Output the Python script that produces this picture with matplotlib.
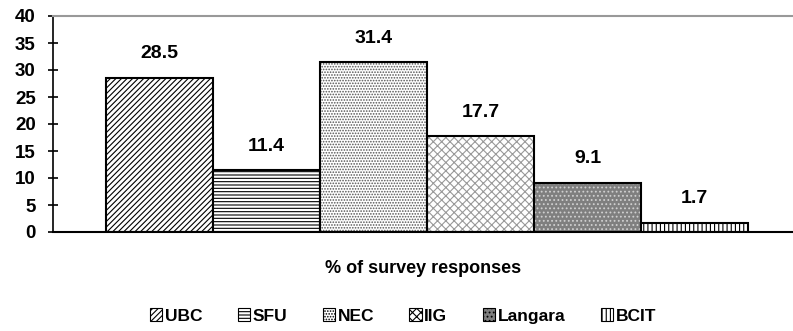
import matplotlib
matplotlib.use("Agg")
import matplotlib.pyplot as plt
import numpy as np

plt.rcParams['font.family'] = ['Liberation Sans', 'DejaVu Sans']
plt.rcParams['font.weight'] = 'bold'
plt.rcParams['hatch.linewidth'] = 0.8

schools = ["UBC", "SFU", "NEC", "IIG", "Langara", "BCIT"]
percent = [28.5, 11.4, 31.4, 17.7, 9.1, 1.7]
hatches = ["//////", "-----", "......", "xxxx", "....", "||||"]
fills = ["white", "white", "white", "white", "#7f7f7f", "white"]
hatch_colors = ["black", "black", "#555555", "#999999", "#d0d0d0", "black"]

fig = plt.figure(figsize=(7.93, 3.31), dpi=100)
ax = fig.add_axes([53 / 793, 1 - 232 / 331, 740 / 793, 216 / 331])

x = np.arange(len(schools))
bars = []
for i in range(len(schools)):
    b = ax.bar(x[i], percent[i], width=1.0, facecolor=fills[i], edgecolor=hatch_colors[i],
               hatch=hatches[i], linewidth=0, label=schools[i])
    # black outline drawn separately so hatch colour can differ
    ax.bar(x[i], percent[i], width=1.0, facecolor='none', edgecolor='black', linewidth=1.5)
    bars.append(b)
    ax.text(x[i], percent[i] + 2.9, f"{percent[i]}", ha='center', va='bottom',
            fontsize=14, fontweight='bold')

ax.set_xlim(-0.995, 5.92)
ax.set_ylim(0, 40)
ax.set_yticks(range(0, 41, 5))
ax.tick_params(axis='y', direction='inout', length=7, width=1.2, labelsize=13.5, pad=9)
ax.tick_params(axis='x', bottom=False, labelbottom=False)
for lab in ax.get_yticklabels():
    lab.set_fontweight('bold')

ax.spines['top'].set_color('#999999')
ax.spines['top'].set_linewidth(1.5)
ax.spines['right'].set_visible(False)
ax.spines['left'].set_linewidth(1.2)
ax.spines['bottom'].set_linewidth(1.5)

ax.set_xlabel("% of survey responses", fontsize=13, fontweight='bold', labelpad=20)

handles = [b.patches[0] for b in bars]
leg = fig.legend(handles, schools, loc='center', bbox_to_anchor=(403 / 793, 1 - 316 / 331),
                 ncol=6, frameon=False, fontsize=12.5, handlelength=0.7, handleheight=0.7,
                 handletextpad=0.15, columnspacing=2.05)
for t in leg.get_texts():
    t.set_fontweight('bold')
for h in leg.legend_handles:
    h.set_linewidth(0.8)
    h.set_edgecolor('black')

fig.savefig("out.png", dpi=100)
